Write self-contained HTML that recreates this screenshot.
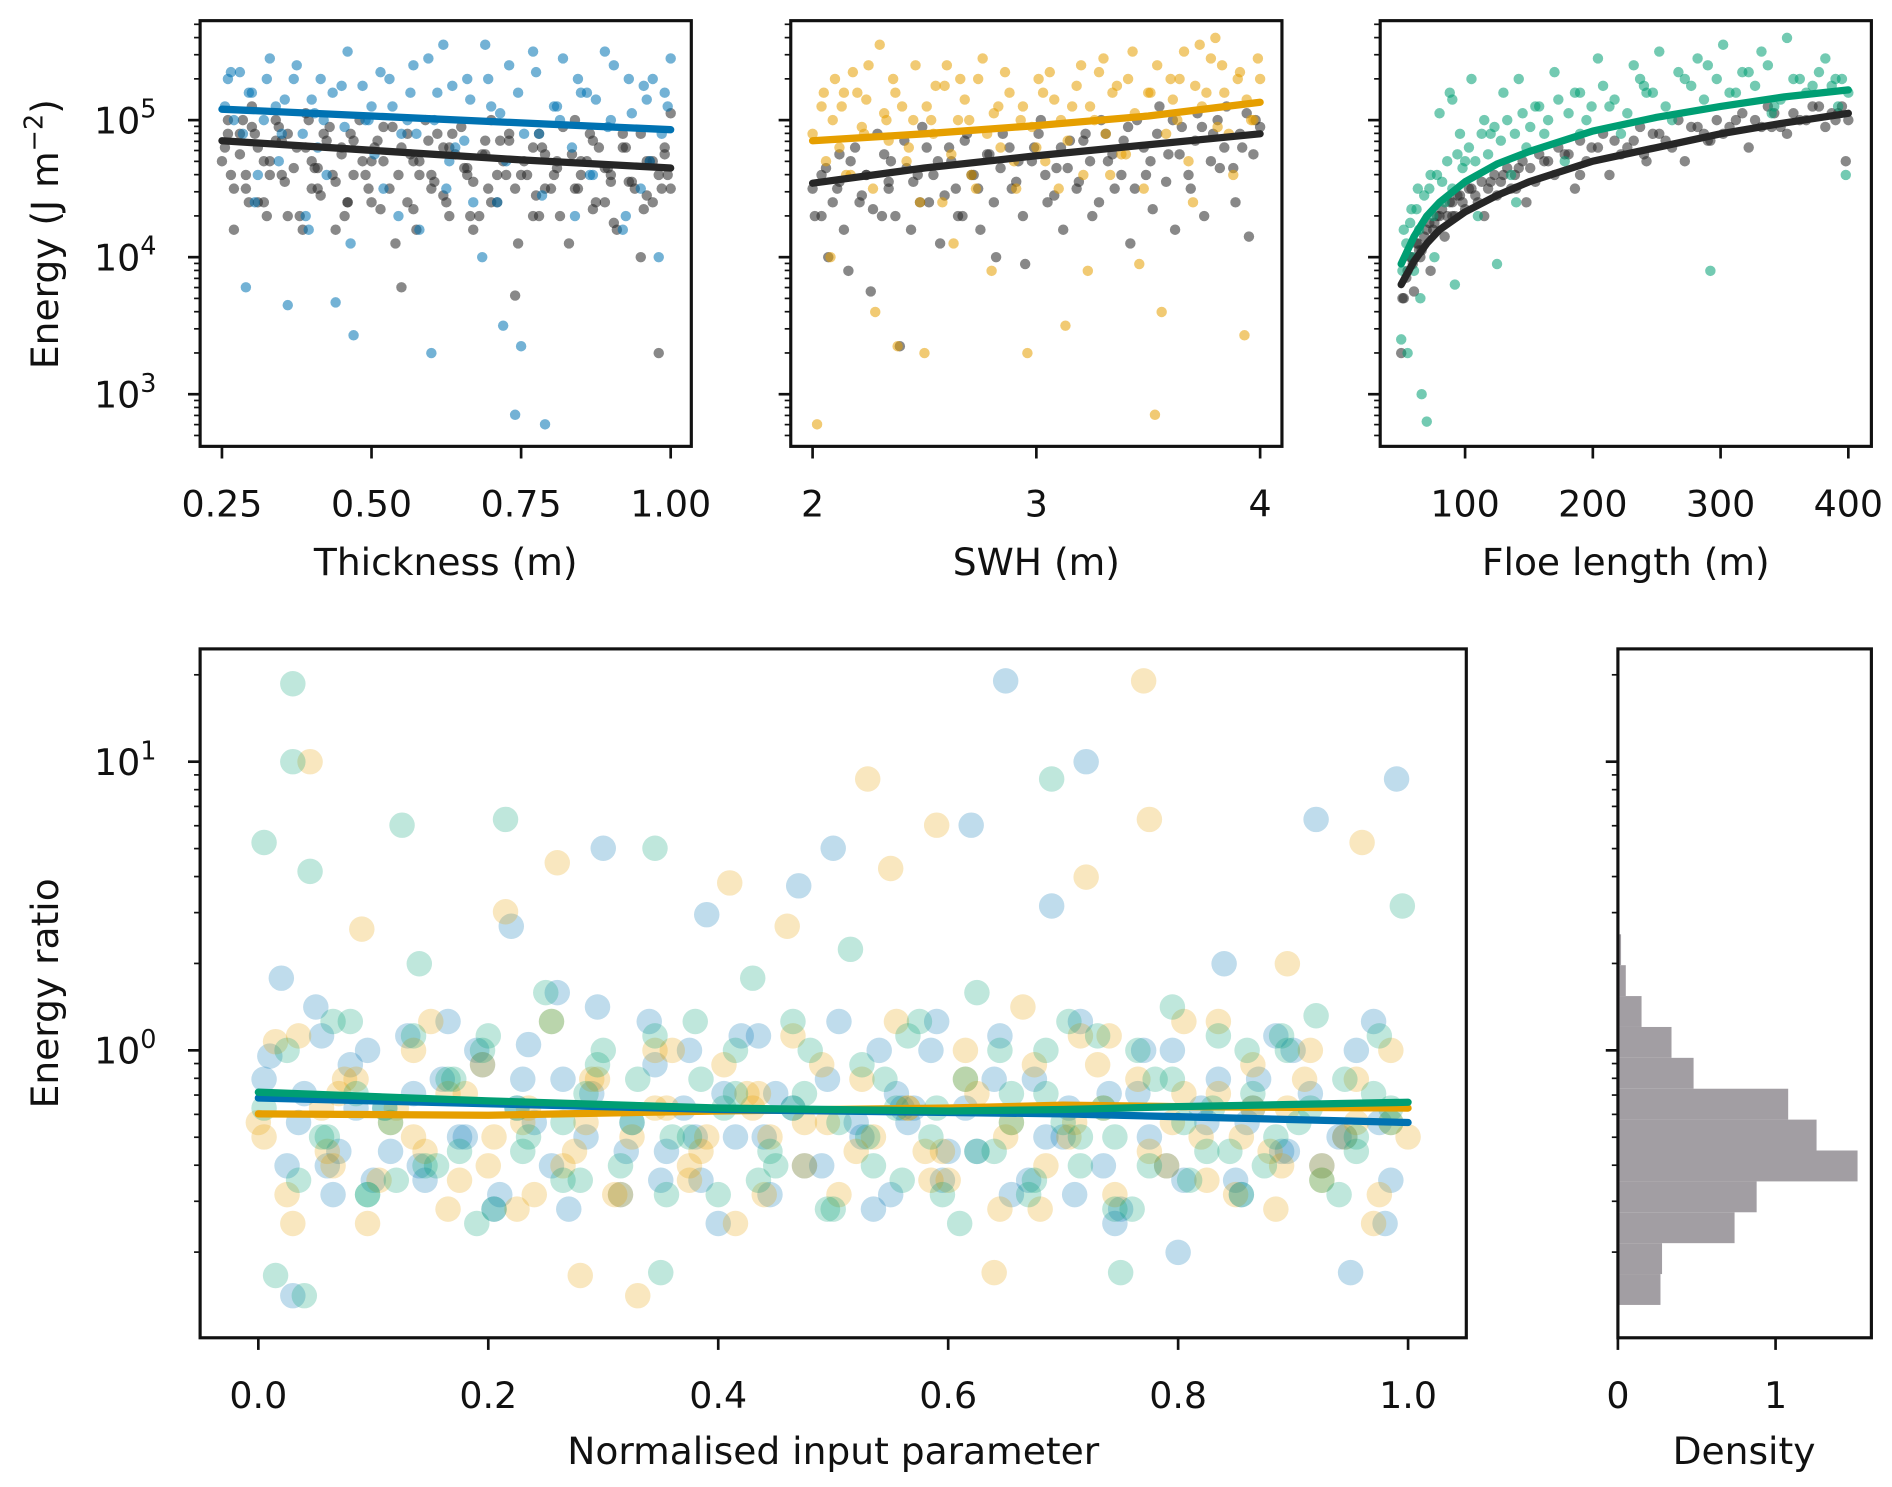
<!DOCTYPE html>
<html><head><meta charset="utf-8"><style>html,body{margin:0;padding:0;background:#fff}svg{display:block}text{font-family:"DejaVu Sans","Liberation Sans",sans-serif;fill:#111}</style></head>
<body>
<svg id="fig" width="1892" height="1487" viewBox="0 0 1560 1226" xmlns="http://www.w3.org/2000/svg"></svg>
<script>
// ---- Top panel data (log10 energy) ----
const thickX=[0.26,0.27,0.28,0.29,0.30,0.31,0.33,0.34,0.36,0.37,0.39,0.40,0.42,0.44,0.45,0.46,0.47,0.49,0.50,0.52,0.53,0.55,0.57,0.58,0.60,0.61,0.62,0.64,0.66,0.67,0.69,0.70,0.72,0.73,0.74,0.75,0.77,0.78,0.79,0.81,0.82,0.84,0.86,0.87,0.89,0.90,0.92,0.93,0.95,0.96,0.97,0.98,0.99,1.0,0.35,0.41,0.56,0.63,0.71,0.85];
const thickBlueY=[5.3,5.0,5.35,3.78,5.2,4.6,5.45,5.1,3.65,5.3,4.3,5.15,5.0,3.67,5.25,5.5,3.43,5.0,5.1,4.5,5.3,4.9,5.4,4.2,3.3,5.2,5.55,4.8,5.3,4.4,5.55,5.1,3.5,5.4,2.85,3.35,5.5,4.9,2.78,5.1,5.45,4.3,5.2,4.6,5.5,5.0,4.2,5.3,4.5,5.15,5.3,4.0,5.2,5.45,4.9,4.8,5.0,4.7,4.4,5.2];
const thickX2=[0.255,0.265,0.285,0.295,0.305,0.32,0.325,0.345,0.355,0.375,0.385,0.395,0.405,0.415,0.425,0.435,0.455,0.465,0.485,0.495,0.505,0.515,0.535,0.545,0.565,0.575,0.595,0.605,0.625,0.635,0.655,0.665,0.685,0.695,0.715,0.725,0.745,0.755,0.775,0.785,0.805,0.815,0.835,0.845,0.865,0.875,0.895,0.905,0.925,0.935,0.955,0.965,0.985,0.995];
const thickBlueY2=[5.1,5.35,4.9,5.2,4.4,5.0,5.3,4.7,5.15,5.4,4.9,4.2,5.05,5.3,4.6,5.2,4.95,4.1,5.25,5.0,4.75,5.35,5.1,4.3,5.2,4.9,5.45,5.0,4.5,5.25,4.85,5.15,4.0,5.3,5.05,4.7,5.2,4.9,5.35,4.45,5.1,5.0,4.8,5.3,4.6,5.15,4.95,5.4,4.3,5.05,5.25,4.7,4.9,5.1];
const thickBlackX=[0.25,0.26,0.27,0.28,0.29,0.30,0.31,0.32,0.34,0.35,0.36,0.38,0.39,0.40,0.41,0.43,0.44,0.45,0.47,0.48,0.50,0.51,0.52,0.54,0.55,0.56,0.58,0.59,0.60,0.62,0.63,0.65,0.66,0.67,0.69,0.70,0.71,0.73,0.74,0.76,0.77,0.78,0.80,0.81,0.83,0.84,0.85,0.87,0.88,0.90,0.91,0.92,0.94,0.95,0.96,0.97,0.98,0.99,1.0,0.33,0.46,0.57,0.68,0.79,0.89];
const thickBlackY=[4.7,5.0,4.2,4.9,4.5,5.1,4.8,4.4,5.0,4.6,4.9,4.3,5.05,4.7,4.5,4.95,4.2,4.8,4.6,5.0,4.4,4.85,4.7,4.1,3.78,4.9,4.6,5.0,4.5,4.8,4.3,4.95,4.6,4.2,4.75,5.0,4.4,4.85,3.72,4.6,4.3,4.9,4.5,4.7,4.1,5.0,4.6,4.35,4.8,4.55,4.2,4.9,4.5,4.0,4.7,4.4,3.3,4.8,5.05,4.6,4.4,4.7,4.3,4.5,4.65];
const thickBlackY2=[4.8,4.6,5.0,4.4,4.9,4.7,4.3,4.95,4.55,4.8,4.2,5.0,4.65,4.45,4.85,4.6,4.3,4.9,4.7,4.5,4.8,4.35,4.95,4.6,4.75,4.2,4.85,4.55,4.4,4.9,4.65,4.3,4.75,4.5,4.85,4.6,4.1,4.7,4.45,4.8,4.6,4.3,4.75,4.5,4.9,4.4,4.65,4.25,4.8,4.55,4.35,4.7,4.5,4.6];
const thickBlackY3=[4.9,4.5,4.75,4.6,4.95,4.4,4.7,4.85,4.3,4.65,4.8,4.5,4.9,4.55,4.75,4.4,4.85,4.6,4.7,4.95,4.5,4.8,4.35,4.7,4.6,4.9,4.45,4.75,4.65,4.55,4.85,4.4,4.7,4.9,4.5,4.6,4.8,4.3,4.75,4.65,4.95,4.5,4.7,4.85,4.4,4.6,4.8,4.55,4.9,4.45,4.7,4.6,4.75,4.5,4.85,4.65,4.4,4.8,4.6,4.7];
const swhX=[2.02,2.05,2.08,2.1,2.13,2.15,2.18,2.2,2.23,2.25,2.28,2.3,2.33,2.36,2.38,2.4,2.43,2.46,2.5,2.53,2.55,2.58,2.6,2.63,2.66,2.7,2.73,2.76,2.8,2.83,2.86,2.9,2.93,2.96,3.0,3.03,3.06,3.1,3.13,3.16,3.2,3.23,3.26,3.3,3.33,3.36,3.4,3.43,3.46,3.5,3.53,3.56,3.6,3.63,3.66,3.7,3.73,3.76,3.8,3.83,3.86,3.9,3.93,3.96,3.99];
const swhOrangeY=[2.78,5.2,4.0,5.3,5.1,4.6,5.35,5.2,4.9,5.4,3.6,5.55,5.0,5.3,3.35,5.1,4.8,5.4,3.3,5.0,5.25,4.4,5.4,4.1,5.3,5.0,4.5,5.45,3.9,5.1,5.35,4.7,5.0,3.3,4.8,5.2,5.35,4.5,3.5,5.1,5.4,3.9,5.0,5.45,4.6,5.25,4.75,5.5,3.95,5.2,2.85,3.6,5.3,5.0,5.5,4.4,5.55,5.2,5.6,5.4,4.9,5.3,3.43,5.0,5.45];
const swhX2=[2.0,2.04,2.06,2.09,2.12,2.14,2.17,2.22,2.24,2.27,2.32,2.34,2.37,2.42,2.45,2.48,2.51,2.54,2.59,2.62,2.65,2.68,2.71,2.74,2.78,2.81,2.84,2.88,2.91,2.94,2.98,3.01,3.04,3.08,3.11,3.14,3.18,3.21,3.24,3.28,3.31,3.34,3.38,3.41,3.44,3.48,3.51,3.54,3.58,3.61,3.64,3.68,3.71,3.74,3.78,3.81,3.84,3.88,3.91,3.94,3.97,4.0];
const swhOrangeY2=[4.9,5.1,4.7,5.0,4.8,5.2,4.6,4.95,5.15,4.5,5.05,4.85,5.2,4.7,5.0,4.4,5.1,4.9,5.25,4.75,5.0,5.15,4.6,5.3,4.9,5.05,4.8,5.2,4.5,5.1,4.95,5.3,4.7,5.15,5.0,4.85,5.25,4.6,5.1,5.35,4.9,5.2,4.75,5.3,5.05,4.5,5.2,5.4,4.9,5.15,5.3,4.7,5.25,5.1,5.45,4.95,5.2,4.6,5.35,5.15,5.0,5.3];
const swhBlackX=[2.01,2.04,2.07,2.11,2.12,2.16,2.19,2.21,2.24,2.26,2.29,2.31,2.34,2.35,2.39,2.41,2.44,2.47,2.49,2.52,2.56,2.57,2.61,2.64,2.67,2.69,2.72,2.75,2.79,2.82,2.85,2.89,2.92,2.95,2.99,3.02,3.05,3.09,3.12,3.15,3.19,3.22,3.25,3.29,3.32,3.35,3.39,3.42,3.45,3.49,3.52,3.55,3.59,3.62,3.65,3.69,3.72,3.75,3.79,3.82,3.85,3.89,3.92,3.95,3.98];
const swhBlackY=[4.3,4.6,4.0,4.5,4.75,3.9,4.8,4.4,4.6,3.75,4.9,4.3,4.55,4.7,3.35,4.85,4.2,4.6,4.95,4.4,4.7,4.1,4.8,4.5,4.3,4.9,4.6,4.2,4.75,4.0,4.9,4.5,4.7,3.95,4.8,5.0,4.4,4.65,4.2,4.85,4.55,4.9,4.3,5.0,4.7,4.5,4.85,4.1,5.0,4.6,4.35,5.1,4.75,4.2,4.95,4.5,5.05,4.3,4.9,4.65,5.1,4.4,4.8,4.15,5.0];
const swhBlackY2=[4.5,4.3,4.65,4.4,4.55,4.2,4.7,4.45,4.6,4.35,4.75,4.5,4.3,4.65,4.55,4.4,4.8,4.6,4.45,4.7,4.3,4.85,4.6,4.5,4.75,4.4,4.65,4.8,4.55,4.3,4.7,4.9,4.6,4.45,4.8,4.65,4.5,4.85,4.7,4.4,4.9,4.75,4.6,4.95,4.5,4.8,4.7,4.9,4.55,5.0,4.75,4.6,4.85,4.95,4.7,5.0,4.8,4.65,4.9,5.05,4.75,4.95];
const floeX=[50,52,55,58,60,63,66,70,73,76,80,84,88,92,96,100,105,110,115,120,125,130,136,142,148,155,162,170,178,186,195,204,213,222,232,242,252,262,272,282,292,302,312,322,332,342,352,362,372,382,392,398,65,90,140,190,240,290,340,390];
const floeGreenY=[3.4,4.2,3.3,4.35,3.9,4.5,3.0,2.8,4.6,4.0,5.05,4.4,5.2,3.8,4.9,4.7,5.3,4.3,5.0,4.9,3.95,5.2,4.6,5.3,4.8,5.1,4.9,5.35,4.7,5.2,5.0,5.45,5.1,4.9,5.4,5.2,5.5,5.0,5.3,5.45,3.9,5.55,5.2,5.35,5.5,5.1,5.6,5.3,5.25,5.45,5.1,4.6,3.7,5.15,4.4,4.9,5.25,5.4,5.05,5.3];
const floeBlackY=[3.3,3.7,3.9,4.0,3.75,4.1,4.05,4.2,3.9,4.25,4.3,4.15,4.4,4.3,4.45,4.35,4.5,4.4,4.3,4.55,4.45,4.6,4.5,4.65,4.4,4.55,4.7,4.6,4.75,4.5,4.7,4.8,4.6,4.75,4.85,4.7,4.9,4.8,4.7,4.95,4.85,4.9,5.0,4.8,4.95,5.05,4.9,5.0,5.1,4.95,5.05,4.7,4.0,4.3,4.5,4.6,4.75,4.85,4.95,5.0];
const floeX2=[51,54,57,59,62,64,68,72,75,78,82,86,90,94,98,103,108,113,118,123,128,133,139,145,151,158,165,173,181,190,199,208,217,227,237,247,257,267,277,287,297,307,317,327,337,347,357,367,377,387,395,400];
const floeGreenY2=[3.9,4.1,4.25,4.0,4.35,4.2,4.45,4.5,4.3,4.6,4.55,4.7,4.5,4.75,4.65,4.8,4.7,4.9,4.75,4.95,4.85,5.0,4.9,5.05,4.95,5.1,5.0,5.15,5.05,5.2,5.1,5.25,5.15,5.05,5.3,5.2,5.1,5.35,5.25,5.15,5.3,5.2,5.35,5.25,5.4,5.15,5.3,5.2,5.35,5.25,5.3,5.2];
const floeBlackY2=[3.7,3.85,4.0,3.95,4.1,4.05,4.15,4.25,4.2,4.3,4.35,4.3,4.4,4.45,4.4,4.5,4.45,4.55,4.5,4.6,4.55,4.65,4.6,4.7,4.65,4.75,4.7,4.8,4.75,4.85,4.8,4.9,4.85,4.8,4.95,4.9,4.85,5.0,4.95,4.9,5.0,4.95,5.05,5.0,5.1,4.95,5.05,5.0,5.1,5.05,5.1,5.0];
// fit lines (log10 energy)
const thickFitX=[0.25,0.5,0.75,1.0];
const thickFitBlue=[5.08,5.03,4.98,4.93];
const thickFitBlack=[4.85,4.78,4.71,4.65];
const swhFitX=[2,2.5,3,3.5,4];
const swhFitOrange=[4.85,4.9,4.96,5.03,5.13];
const swhFitBlack=[4.54,4.65,4.74,4.82,4.9];
const floeFitX=[50,60,70,80,100,125,150,200,250,300,350,400];
const floeFitGreen=[3.95,4.15,4.3,4.4,4.55,4.68,4.77,4.92,5.02,5.1,5.17,5.22];
const floeFitBlack=[3.8,3.97,4.1,4.2,4.33,4.45,4.55,4.7,4.8,4.9,4.98,5.05];
// ---- Bottom panel data (log10 ratio) ----
const normBlueX=[0.01,0.02,0.03,0.04,0.05,0.07,0.08,0.1,0.11,0.13,0.14,0.16,0.18,0.19,0.21,0.22,0.24,0.26,0.27,0.29,0.3,0.32,0.34,0.35,0.37,0.39,0.4,0.42,0.44,0.45,0.47,0.49,0.5,0.52,0.54,0.55,0.57,0.59,0.6,0.62,0.64,0.65,0.67,0.69,0.7,0.72,0.74,0.75,0.77,0.79,0.8,0.82,0.84,0.85,0.87,0.89,0.9,0.92,0.94,0.95,0.97,0.98,0.99,0.06,0.23,0.38,0.56,0.71,0.86];
const normBlueY=[-0.02,0.25,-0.85,-0.15,0.15,-0.35,-0.05,-0.45,-0.2,0.05,-0.4,-0.1,-0.3,0.0,-0.5,0.43,-0.25,0.2,-0.55,-0.15,0.7,-0.35,0.1,-0.45,-0.2,0.47,-0.6,0.05,-0.3,-0.15,0.57,-0.4,0.7,-0.25,0.0,-0.5,-0.2,0.1,-0.35,0.78,-0.1,1.28,-0.45,0.5,-0.3,1.0,-0.15,-0.55,0.0,-0.4,-0.7,-0.2,0.3,-0.45,-0.1,-0.35,0.0,0.8,-0.3,-0.77,0.1,-0.6,0.94,-0.4,-0.1,-0.3,-0.2,-0.5,-0.25];
const normOrangeX=[0.0,0.015,0.03,0.045,0.06,0.075,0.09,0.105,0.12,0.135,0.15,0.165,0.18,0.2,0.215,0.23,0.28,0.26,0.275,0.29,0.31,0.33,0.345,0.36,0.375,0.39,0.41,0.425,0.44,0.46,0.475,0.49,0.53,0.52,0.55,0.565,0.59,0.6,0.615,0.64,0.65,0.665,0.68,0.72,0.71,0.73,0.77,0.775,0.79,0.805,0.82,0.835,0.85,0.865,0.88,0.895,0.91,0.925,0.96,0.955,0.97,0.985,1.0,0.07,0.24,0.43,0.58,0.74,0.89];
const normOrangeY=[-0.25,0.03,-0.6,1.0,-0.35,-0.1,0.42,-0.45,-0.2,-0.3,0.1,-0.55,-0.15,-0.4,0.48,-0.25,-0.78,0.65,-0.35,-0.1,-0.5,-0.85,-0.2,0.0,-0.4,-0.3,0.58,-0.15,-0.5,0.43,-0.25,-0.05,0.94,-0.35,0.63,-0.2,0.78,-0.45,-0.1,-0.77,-0.3,0.15,-0.55,0.6,-0.25,-0.05,1.28,0.8,-0.4,-0.15,-0.3,0.1,-0.5,-0.2,-0.35,0.3,-0.1,-0.45,0.72,-0.25,-0.6,0.0,-0.3,-0.15,-0.5,-0.2,-0.35,0.05,-0.4];
const normGreenX=[0.005,0.015,0.03,0.03,0.04,0.045,0.06,0.08,0.095,0.125,0.11,0.14,0.155,0.215,0.17,0.19,0.2,0.23,0.25,0.265,0.28,0.3,0.345,0.35,0.36,0.38,0.4,0.415,0.43,0.45,0.465,0.48,0.5,0.515,0.53,0.545,0.56,0.575,0.59,0.61,0.625,0.64,0.69,0.655,0.67,0.685,0.7,0.75,0.715,0.73,0.745,0.76,0.78,0.795,0.81,0.83,0.845,0.86,0.875,0.89,0.905,0.92,0.94,0.995,0.955,0.97,0.985,0.12,0.33];
const normGreenY=[0.72,-0.78,1.0,1.27,-0.85,0.62,-0.3,0.1,-0.5,0.78,-0.2,0.3,-0.4,0.8,-0.1,-0.6,0.05,-0.35,0.2,-0.25,-0.45,0.0,0.7,-0.77,-0.3,0.1,-0.5,-0.15,0.25,-0.4,-0.2,0.0,-0.55,0.35,-0.3,-0.1,-0.45,0.1,-0.2,-0.6,0.2,-0.35,0.94,-0.15,-0.5,0.0,-0.25,-0.77,-0.4,0.05,-0.3,-0.55,-0.1,0.15,-0.45,-0.2,-0.35,0.0,-0.4,0.05,-0.25,0.12,-0.5,0.5,-0.3,-0.15,-0.2,-0.45,-0.1];
const normX2=[0.005,0.025,0.035,0.055,0.065,0.085,0.095,0.115,0.135,0.145,0.165,0.175,0.195,0.205,0.225,0.235,0.255,0.265,0.285,0.295,0.315,0.325,0.345,0.355,0.375,0.385,0.405,0.415,0.435,0.445,0.465,0.475,0.495,0.505,0.525,0.535,0.555,0.565,0.585,0.595,0.615,0.625,0.645,0.655,0.675,0.685,0.705,0.715,0.735,0.745,0.765,0.775,0.795,0.805,0.825,0.835,0.855,0.865,0.885,0.895,0.915,0.925,0.945,0.955,0.975,0.985];
const normBlueY2=[-0.1,-0.4,-0.25,0.05,-0.5,-0.2,0.0,-0.35,-0.15,-0.45,0.1,-0.3,-0.05,-0.55,-0.2,0.02,-0.4,-0.1,-0.3,0.15,-0.5,-0.25,-0.05,-0.35,0.0,-0.45,-0.15,-0.3,0.05,-0.5,-0.2,-0.4,-0.1,0.1,-0.3,-0.55,-0.15,-0.25,0.0,-0.45,-0.2,-0.35,0.05,-0.5,-0.1,-0.3,-0.2,0.1,-0.4,-0.6,-0.15,-0.3,0.0,-0.45,-0.25,-0.1,-0.5,-0.2,0.05,-0.35,-0.15,-0.4,-0.3,0.0,-0.25,-0.45];
const normOrangeY2=[-0.3,-0.5,0.05,-0.2,-0.4,-0.1,-0.6,-0.25,0.0,-0.35,-0.15,-0.45,-0.05,-0.3,-0.55,-0.2,0.1,-0.4,-0.25,-0.1,-0.5,-0.3,0.0,-0.2,-0.45,-0.35,-0.05,-0.6,-0.15,-0.3,0.05,-0.4,-0.25,-0.5,-0.1,-0.3,0.1,-0.2,-0.45,-0.35,0.0,-0.15,-0.55,-0.25,-0.05,-0.4,-0.3,0.05,-0.2,-0.5,-0.1,-0.35,-0.25,0.1,-0.45,-0.15,-0.3,-0.05,-0.55,-0.2,0.0,-0.4,-0.3,-0.1,-0.5,-0.25];
const normGreenY2=[-0.2,0.0,-0.45,-0.3,0.1,-0.15,-0.5,-0.25,0.05,-0.4,-0.1,-0.35,0.0,-0.55,-0.2,-0.3,0.1,-0.45,-0.15,-0.05,-0.4,-0.25,0.05,-0.5,-0.3,-0.1,-0.2,0.0,-0.45,-0.35,0.1,-0.15,-0.55,-0.25,-0.05,-0.4,-0.2,0.05,-0.3,-0.5,-0.1,-0.35,0.0,-0.25,-0.45,-0.15,0.1,-0.3,-0.2,-0.55,0.0,-0.4,-0.1,-0.25,-0.35,0.05,-0.5,-0.15,-0.3,0.0,-0.2,-0.45,-0.1,-0.35,0.05,-0.25];
const normFitX=[0,0.2,0.4,0.6,0.7,0.8,1.0];
const normFitBlue=[-0.165,-0.185,-0.205,-0.215,-0.22,-0.23,-0.25];
const normFitOrange=[-0.22,-0.225,-0.21,-0.2,-0.19,-0.195,-0.2];
const normFitGreen=[-0.145,-0.175,-0.2,-0.21,-0.205,-0.195,-0.18];
// histogram (log10 bin edges, densities)
const histEdges=[-0.882,-0.775,-0.668,-0.561,-0.454,-0.347,-0.240,-0.133,-0.026,0.081,0.188,0.295,0.402,0.509];
const histDensity=[0.27,0.28,0.74,0.88,1.52,1.26,1.08,0.48,0.34,0.15,0.05,0.02,0.01];

const NS='http://www.w3.org/2000/svg';
const svg=document.getElementById('fig');
function mk(tag,attrs,parent){const e=document.createElementNS(NS,tag);for(const k in attrs)e.setAttribute(k,attrs[k]);(parent||svg).appendChild(e);return e;}
function lin(d0,d1,r0,r1){return v=>r0+(v-d0)*(r1-r0)/(d1-d0);}
const C={blue:'#0072B2',orange:'#E69F00',green:'#009E73',black:'#262626'};

function logTicksY(g,ymap,x0,lo,hi,labels){
  for(let d=Math.floor(lo);d<=Math.ceil(hi);d++){
    for(let m=1;m<10;m++){
      const v=d+Math.log10(m); if(v<lo||v>hi)continue;
      const y=ymap(v);
      const t=mk('line',{x1:x0,x2:x0-(m===1?10:5),y1:y,y2:y,stroke:'#111','stroke-width':m===1?2.2:1.4},g);
      
      
      if(m===1&&labels){
        const tx=mk('text',{x:x0-36,y:y+11,'text-anchor':'end','font-size':30},g);
        
        
        tx.appendChild(document.createTextNode('10'));
        const sp=mk('tspan',{dy:-13,'font-size':21},tx);sp.textContent=String(d);
      }
    }
  }
}
function frame(g,x0,y0,x1,y1,name){
  const r=mk('rect',{x:x0,y:y0,width:x1-x0,height:y1-y0,fill:'none',stroke:'#111','stroke-width':2.6},g);
  
  
}
function xTicks(g,xmap,y1,vals,labs){
  vals.forEach((v,i)=>{
    const x=xmap(v);
    const t=mk('line',{x1:x,x2:x,y1:y1,y2:y1+10,stroke:'#111','stroke-width':2.2},g);
    
    
    const tx=mk('text',{x:x,y:y1+58,'text-anchor':'middle','font-size':30},g);
    
    
    tx.textContent=labs[i];
  });
}
function title(g,x,y,txt,rot,name){
  const t=mk('text',{x:x,y:y,'text-anchor':'middle','font-size':31},g);
  if(rot)t.setAttribute('transform','rotate(-90 '+x+' '+y+')');
  
  
  t.textContent=txt;return t;
}
function dots(g,xs,ys,xmap,ymap,r,color,op,name){
  const n=Math.min(xs.length,ys.length);
  for(let i=0;i<n;i++){
    const c=mk('circle',{cx:xmap(xs[i]),cy:ymap(ys[i]),r:r,fill:color,'fill-opacity':op},g);
    
    
  }
}
function fit(g,xs,ys,xmap,ymap,color,name){
  const d=xs.map((x,i)=>(i?'L':'M')+xmap(x).toFixed(1)+','+ymap(ys[i]).toFixed(1)).join('');
  const p=mk('path',{d:d,fill:'none',stroke:color,'stroke-width':6,'stroke-linecap':'round','stroke-linejoin':'round'},g);
  
  
}

// ---- top panels ----
const topY=lin(5,4,99,212);
const TOPLO=(5-(368-99)/113), TOPHI=5+(99-17)/113;
const panels=[
 {x0:165,x1:570,xm:lin(0.25,1,183,553),ticks:[0.25,0.5,0.75,1.0],labs:['0.25','0.50','0.75','1.00'],title:'Thickness (m)',
  series:[[thickBlackX,thickBlackY,C.black,'thickness-black-dot'],[thickX2,thickBlackY2,C.black,'thickness-black-dot'],[thickX,thickBlackY3,C.black,'thickness-black-dot'],[thickX,thickBlueY,C.blue,'thickness-blue-dot'],[thickX2,thickBlueY2,C.blue,'thickness-blue-dot']],
  fits:[[thickFitX,thickFitBlack,C.black,'thickness-black-fit'],[thickFitX,thickFitBlue,C.blue,'thickness-blue-fit']],name:'thickness-panel'},
 {x0:652,x1:1057,xm:lin(2,4,670,1039),ticks:[2,3,4],labs:['2','3','4'],title:'SWH (m)',
  series:[[swhBlackX,swhBlackY,C.black,'swh-black-dot'],[swhX2,swhBlackY2,C.black,'swh-black-dot'],[swhX,swhOrangeY,C.orange,'swh-orange-dot'],[swhX2,swhOrangeY2,C.orange,'swh-orange-dot']],
  fits:[[swhFitX,swhFitBlack,C.black,'swh-black-fit'],[swhFitX,swhFitOrange,C.orange,'swh-orange-fit']],name:'swh-panel'},
 {x0:1138,x1:1543,xm:lin(100,400,1208,1524),ticks:[100,200,300,400],labs:['100','200','300','400'],title:'Floe length (m)',
  series:[[floeX,floeBlackY,C.black,'floe-black-dot'],[floeX2,floeBlackY2,C.black,'floe-black-dot'],[floeX,floeGreenY,C.green,'floe-green-dot'],[floeX2,floeGreenY2,C.green,'floe-green-dot']],
  fits:[[floeFitX,floeFitBlack,C.black,'floe-black-fit'],[floeFitX,floeFitGreen,C.green,'floe-green-fit']],name:'floe-length-panel'}
];
panels.forEach((P,pi)=>{
  const g=mk('g',{});
  
  
  const cp=mk('clipPath',{id:'cp'+pi},g);mk('rect',{x:P.x0,y:17,width:P.x1-P.x0,height:351},cp);
  const dg=mk('g',{'clip-path':'url(#cp'+pi+')'},g);
  P.series.forEach(s=>dots(dg,s[0],s[1],P.xm,topY,4.3,s[2],0.55,s[3]));
  P.fits.forEach(f=>fit(dg,f[0],f[1],P.xm,topY,f[2],f[3]));
  frame(g,P.x0,17,P.x1,368,P.name+'-frame');
  logTicksY(g,topY,P.x0,TOPLO,TOPHI,pi===0);
  xTicks(g,P.xm,368,P.ticks,P.labs);
  title(g,(P.x0+P.x1)/2,474,P.title,false,'x-axis-title');
});
{const t=mk('text',{x:48,y:193,'text-anchor':'middle','font-size':31,transform:'rotate(-90 48 193)'});
 
 t.appendChild(document.createTextNode('Energy (J m'));const s=mk('tspan',{dy:-13,'font-size':21},t);s.textContent='−2';
 const s2=mk('tspan',{dy:13},t);s2.textContent=')';}

// ---- bottom main ----
const bY=lin(1,0,628,866);
const BLO=-(1103-866)/238, BHI=1+(628-535)/238;
const bX=lin(0,1,213,1161);
{
 const g=mk('g',{});
 
 
 const cp=mk('clipPath',{id:'cpb'},g);mk('rect',{x:165,y:535,width:1044,height:568},cp);
 const dg=mk('g',{'clip-path':'url(#cpb)'},g);
 dots(dg,normBlueX,normBlueY,bX,bY,10.5,C.blue,0.25,'ratio-blue-dot');
 dots(dg,normX2,normBlueY2,bX,bY,10.5,C.blue,0.25,'ratio-blue-dot');
 dots(dg,normOrangeX,normOrangeY,bX,bY,10.5,C.orange,0.25,'ratio-orange-dot');
 dots(dg,normX2,normOrangeY2,bX,bY,10.5,C.orange,0.25,'ratio-orange-dot');
 dots(dg,normGreenX,normGreenY,bX,bY,10.5,C.green,0.25,'ratio-green-dot');
 dots(dg,normX2,normGreenY2,bX,bY,10.5,C.green,0.25,'ratio-green-dot');
 fit(dg,normFitX,normFitOrange,bX,bY,C.orange,'ratio-orange-fit');
 fit(dg,normFitX,normFitBlue,bX,bY,C.blue,'ratio-blue-fit');
 fit(dg,normFitX,normFitGreen,bX,bY,C.green,'ratio-green-fit');
 frame(g,165,535,1209,1103,'ratio-frame');
 logTicksY(g,bY,165,BLO,BHI,true);
 xTicks(g,bX,1103,[0,0.2,0.4,0.6,0.8,1.0],['0.0','0.2','0.4','0.6','0.8','1.0']);
 title(g,687,1207,'Normalised input parameter',false,'x-axis-title');
 title(g,48,819,'Energy ratio',true,'y-axis-title');
}
// ---- histogram ----
{
 const hX=lin(0,1,1334,1464);
 const g=mk('g',{});
 
 
 histDensity.forEach((d,i)=>{
   const y0=bY(histEdges[i+1]),y1=bY(histEdges[i]);
   const r=mk('rect',{x:hX(0),y:y0,width:hX(d)-hX(0),height:y1-y0,fill:'#a29ea3'},g);
   
   
 });
 frame(g,1334,535,1543,1103,'hist-frame');
 logTicksY(g,bY,1334,BLO,BHI,false);
 xTicks(g,hX,1103,[0,1],['0','1']);
 title(g,1438,1207,'Density',false,'x-axis-title');
}
</script>
</body></html>
